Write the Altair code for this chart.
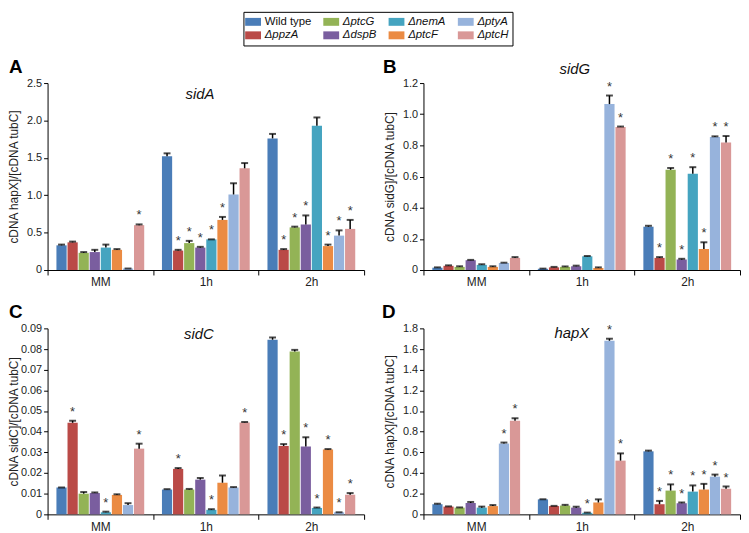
import altair as alt
import pandas as pd

FONT = "Liberation Sans"

times = ["MM", "1h", "2h"]
strains = ["Wild type", "\u0394ppzA", "\u0394ptcG", "\u0394dspB",
           "\u0394nemA", "\u0394ptcF", "\u0394ptyA", "\u0394ptcH"]
strain_colors = ["#4A7DB8", "#BA4A47", "#93B356", "#7A5E9F",
                 "#45A4C0", "#EB8B43", "#97B3DC", "#D99897"]

# Panel A: sidA  (rows: MM, 1h, 2h; columns follow `strains`)
sidA_mean = [[0.33, 0.37, 0.23, 0.24, 0.30, 0.27, 0.02, 0.60],
             [1.52, 0.26, 0.36, 0.30, 0.41, 0.67, 1.01, 1.36],
             [1.76, 0.27, 0.57, 0.61, 1.93, 0.32, 0.46, 0.55]]
sidA_top = [[0.34, 0.38, 0.24, 0.27, 0.34, 0.28, 0.02, 0.61],
            [1.56, 0.27, 0.39, 0.31, 0.41, 0.71, 1.16, 1.43],
            [1.82, 0.28, 0.58, 0.73, 2.04, 0.34, 0.53, 0.67]]
sidA_sig = [[0, 0, 0, 0, 0, 0, 0, 1],
            [0, 1, 1, 1, 1, 1, 0, 0],
            [0, 1, 1, 1, 0, 1, 1, 1]]

# Panel B: sidG
sidG_mean = [[0.015, 0.027, 0.020, 0.063, 0.033, 0.020, 0.045, 0.078],
             [0.008, 0.017, 0.020, 0.024, 0.088, 0.013, 1.065, 0.918],
             [0.278, 0.078, 0.643, 0.067, 0.618, 0.135, 0.853, 0.818]]
sidG_top = [[0.017, 0.030, 0.024, 0.065, 0.037, 0.024, 0.047, 0.083],
            [0.009, 0.020, 0.023, 0.028, 0.090, 0.017, 1.120, 0.921],
            [0.284, 0.083, 0.655, 0.072, 0.660, 0.178, 0.858, 0.860]]
sidG_sig = [[0, 0, 0, 0, 0, 0, 0, 0],
            [0, 0, 0, 0, 0, 0, 1, 1],
            [0, 1, 1, 1, 1, 1, 1, 1]]

# Panel C: sidC
sidC_mean = [[0.0130, 0.0443, 0.0100, 0.0103, 0.0010, 0.0094, 0.0045, 0.0318],
             [0.0120, 0.0220, 0.0120, 0.0168, 0.0022, 0.0153, 0.0130, 0.0445],
             [0.0845, 0.0331, 0.0788, 0.0328, 0.0031, 0.0314, 0.0010, 0.0095]]
sidC_top = [[0.0130, 0.0453, 0.0108, 0.0106, 0.0013, 0.0097, 0.0054, 0.0342],
            [0.0122, 0.0224, 0.0123, 0.0176, 0.0025, 0.0188, 0.0132, 0.0447],
            [0.0856, 0.0340, 0.0796, 0.0373, 0.0033, 0.0316, 0.0010, 0.0103]]
sidC_sig = [[0, 1, 0, 0, 1, 0, 0, 1],
            [0, 1, 0, 0, 1, 0, 0, 1],
            [0, 1, 0, 1, 1, 1, 1, 1]]

# Panel D: hapX
hapX_mean = [[0.098, 0.075, 0.065, 0.110, 0.065, 0.080, 0.685, 0.905],
             [0.145, 0.080, 0.085, 0.065, 0.015, 0.115, 1.680, 0.520],
             [0.610, 0.098, 0.230, 0.108, 0.220, 0.240, 0.365, 0.248]]
hapX_top = [[0.103, 0.077, 0.067, 0.120, 0.075, 0.090, 0.695, 0.930],
            [0.146, 0.082, 0.092, 0.074, 0.017, 0.145, 1.700, 0.590],
            [0.617, 0.130, 0.290, 0.115, 0.280, 0.295, 0.385, 0.270]]
hapX_sig = [[0, 0, 0, 0, 0, 0, 1, 1],
            [0, 0, 0, 0, 1, 0, 1, 1],
            [0, 1, 1, 1, 1, 1, 1, 1]]


def frame(mean, top, sig):
    rows = []
    for ti, t in enumerate(times):
        for si, s in enumerate(strains):
            rows.append({"time": t, "strain": s, "mean": mean[ti][si],
                         "top": top[ti][si], "sig": sig[ti][si]})
    return pd.DataFrame(rows)


legend = alt.Legend(
    orient="none", legendX=198, legendY=-72, columns=4, title=None,
    symbolType="M-1.6,-0.8H1.6V0.8H-1.6Z", symbolSize=100, symbolStrokeWidth=0,
    labelFont=FONT, labelFontSize=11.5, labelColor="#111",
    labelFontStyle=alt.ExprRef(expr="datum.label == 'Wild type' ? 'normal' : 'italic'"),
    strokeColor="black", padding=4, rowPadding=1, columnPadding=11,
    labelOffset=6, symbolOpacity=1,
)


def panel(mean, top, sig, ymax, step, fmt, ytitle, letter, letter_x,
          gene, gx, gy, h, w=320):
    df = frame(mean, top, sig)
    n = int(round(ymax / step))
    ticks = [round(i * step, 4) for i in range(n + 1)]
    xenc = alt.X("time:N", sort=times,
                 scale=alt.Scale(paddingInner=0, paddingOuter=0),
                 axis=alt.Axis(title=None, tickBand="extent", labelAngle=0,
                               tickSize=5, labelPadding=2, labelFontSize=12,
                               labelFont=FONT, labelColor="#222",
                               domainColor="black", tickColor="black"))
    xoff = alt.XOffset("strain:N", sort=strains,
                       scale=alt.Scale(paddingInner=0.08, paddingOuter=0.8))
    yscale = alt.Scale(domain=[0, ymax], nice=False, zero=True)
    yaxis = alt.Axis(values=ticks, grid=False, title=ytitle,
                     labelExpr=f"datum.value == 0 ? '0' : format(datum.value, '{fmt}')",
                     tickSize=4, labelPadding=2, labelFontSize=11, labelFont=FONT,
                     labelColor="#222", domainColor="black", tickColor="black",
                     titleFont=FONT, titleFontSize=12, titleFontWeight="normal",
                     titleColor="#222", titleX=-27, titleY=h / 2, titleAngle=-90,
                     titleBaseline="bottom", titleAlign="center")
    base = alt.Chart(df).encode(x=xenc, xOffset=xoff)
    bars = base.mark_bar().encode(
        y=alt.Y("mean:Q", scale=yscale, axis=yaxis),
        color=alt.Color("strain:N", scale=alt.Scale(domain=strains,
                                                    range=strain_colors),
                        legend=legend),
    )
    rule = base.mark_rule(color="black", strokeWidth=1.5).encode(
        y=alt.Y("mean:Q", scale=yscale, axis=yaxis), y2="top:Q")
    cap = base.mark_tick(color="black", thickness=2, size=7).encode(
        y=alt.Y("top:Q", scale=yscale, axis=yaxis))
    star = base.transform_filter("datum.sig == 1").mark_text(
        text="*", dy=-2, baseline="bottom", fontSize=13, color="#333",
        font=FONT).encode(y=alt.Y("top:Q", scale=yscale, axis=yaxis))
    gene_t = alt.Chart(pd.DataFrame({"t": [gene]})).mark_text(
        fontStyle="italic", fontSize=15, font=FONT, align="center",
        baseline="alphabetic", color="#111").encode(
        text="t:N", x=alt.value(gx), y=alt.value(gy))
    letter_t = alt.Chart(pd.DataFrame({"t": [letter]})).mark_text(
        fontWeight="bold", fontSize=19, font=FONT, align="left",
        baseline="alphabetic", color="black").encode(
        text="t:N", x=alt.value(letter_x), y=alt.value(-10))
    return alt.layer(bars, rule, cap, star, gene_t, letter_t).properties(
        width=w, height=h)


pA = panel(sidA_mean, sidA_top, sidA_sig, 2.5, 0.5, ".1f",
           "cDNA hapX]/[cDNA tubC]", "A", -39, "sidA", 154, 16, 189)
pB = panel(sidG_mean, sidG_top, sidG_sig, 1.2, 0.2, ".1f",
           "cDNA sidG]/[cDNA tubC]", "B", -41, "sidG", 153, -9, 189)
pC = panel(sidC_mean, sidC_top, sidC_sig, 0.09, 0.01, ".2f",
           "cDNA sidC]/[cDNA tubC]", "C", -39, "sidC", 153, 11, 188)
pD = panel(hapX_mean, hapX_top, hapX_sig, 1.8, 0.2, ".1f",
           "cDNA hapX]/[cDNA tubC]", "D", -42, "hapX", 150, 10, 188)

chart = alt.concat(pA, pB, pC, pD, columns=2,
                   spacing={"row": 16, "column": 17}).configure_view(
    stroke=None).properties(padding=0)

chart.save("out.html", embed_options={"renderer": "svg", "actions": False})
